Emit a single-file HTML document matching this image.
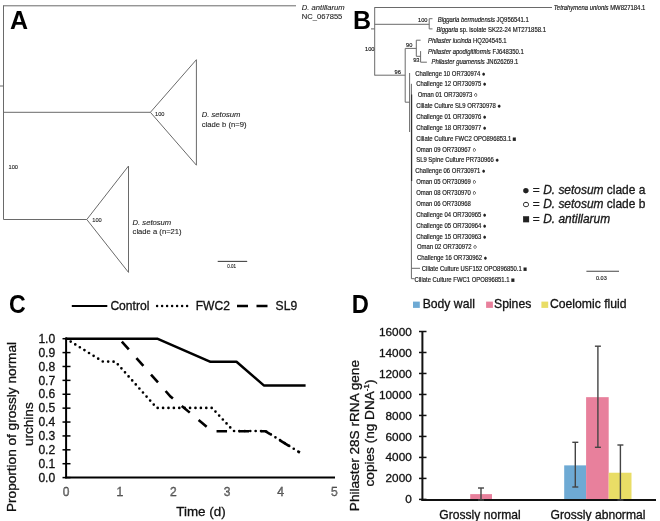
<!DOCTYPE html><html><head><meta charset="utf-8"><style>html,body{margin:0;padding:0;background:#fff;width:660px;height:521px;overflow:hidden}svg{display:block;will-change:transform}text{font-family:"Liberation Sans",sans-serif}.s{stroke:#111;stroke-width:0.15px}.m{stroke:#111;stroke-width:0.3px}.a{fill:#222;stroke:#222;stroke-width:0.1px}</style></head><body>
<svg width="660" height="521" viewBox="0 0 660 521">
<rect width="660" height="521" fill="#fff"/>
<text x="10" y="28.8" font-size="25" fill="#000" text-anchor="start" font-weight="bold" >A</text>
<line x1="3.5" y1="5.8" x2="296" y2="5.8" stroke="#6a6a6a" stroke-width="1" />
<line x1="3.5" y1="5.3" x2="3.5" y2="219.5" stroke="#6a6a6a" stroke-width="1" />
<line x1="0" y1="86" x2="3.5" y2="86" stroke="#6a6a6a" stroke-width="1" />
<line x1="3.5" y1="112.3" x2="150.4" y2="112.3" stroke="#6a6a6a" stroke-width="1" />
<polygon points="150.4,112.3 196.4,59.7 196.4,165.2" fill="none" stroke="#6a6a6a" stroke-width="1"/>
<line x1="3.5" y1="219.5" x2="86.8" y2="219.5" stroke="#6a6a6a" stroke-width="1" />
<polygon points="86.8,219.5 128.5,166 128.5,272.4" fill="none" stroke="#6a6a6a" stroke-width="1"/>
<text x="155" y="115.76" font-size="5.7" fill="#222" text-anchor="start" class="a">100</text>
<text x="92.3" y="222.46" font-size="5.7" fill="#222" text-anchor="start" class="a">100</text>
<text x="8.5" y="168.96" font-size="5.7" fill="#222" text-anchor="start" class="a">100</text>
<text x="201.7" y="117.23" font-size="7.65" fill="#222" text-anchor="start" font-style="italic" class="a">D. setosum</text>
<text x="201.7" y="126.63" font-size="7.65" fill="#222" text-anchor="start" class="a">clade b (n=9)</text>
<text x="132.6" y="224.73" font-size="7.65" fill="#222" text-anchor="start" font-style="italic" class="a">D. setosum</text>
<text x="132.6" y="233.53" font-size="7.65" fill="#222" text-anchor="start" class="a">clade a (n=21)</text>
<line x1="217.7" y1="261.4" x2="247.2" y2="261.4" stroke="#444" stroke-width="1.1" />
<text x="227.3" y="267.95" font-size="4.5" fill="#222" text-anchor="start" class="a">0.01</text>
<text x="301.8" y="10.33" font-size="7.65" fill="#222" text-anchor="start" font-style="italic" class="a">D. antillarum</text>
<text x="301.8" y="18.61" font-size="7.6" fill="#222" text-anchor="start" class="a">NC_067855</text>
<text x="353" y="28.8" font-size="25" fill="#000" text-anchor="start" font-weight="bold" >B</text>
<line x1="374.7" y1="7.5" x2="552" y2="7.5" stroke="#6a6a6a" stroke-width="1" />
<line x1="374.7" y1="7.2" x2="374.7" y2="75.5" stroke="#6a6a6a" stroke-width="1" />
<line x1="371" y1="28.9" x2="374.7" y2="28.9" stroke="#6a6a6a" stroke-width="1" />
<line x1="374.7" y1="24.3" x2="429.2" y2="24.3" stroke="#6a6a6a" stroke-width="1" />
<line x1="429.2" y1="18.7" x2="429.2" y2="28.9" stroke="#6a6a6a" stroke-width="1" />
<line x1="429.2" y1="18.7" x2="432.5" y2="18.7" stroke="#6a6a6a" stroke-width="1" />
<line x1="429.2" y1="28.9" x2="432.5" y2="28.9" stroke="#6a6a6a" stroke-width="1" />
<text x="418" y="22" font-size="5.7" fill="#222" text-anchor="start" class="s">100</text>
<text x="365" y="51.46" font-size="5.7" fill="#222" text-anchor="start" class="s">100</text>
<g transform="translate(0,8) scale(1,1.1)">
<text x="553.8" y="2.04" font-size="5.93" fill="#222" text-anchor="start" class="s"><tspan font-style='italic'>Tetrahymena unionis</tspan> MW827184.1</text>
</g>
<g transform="translate(0,20) scale(1,1.1)">
<text x="437.7" y="2.04" font-size="5.93" fill="#222" text-anchor="start" class="s"><tspan font-style='italic'>Biggaria bermudensis</tspan> JQ956541.1</text>
</g>
<g transform="translate(0,29.8) scale(1,1.1)">
<text x="436.4" y="2.04" font-size="5.93" fill="#222" text-anchor="start" class="s"><tspan font-style='italic'>Biggaria</tspan> sp. isolate SK22-24 MT271858.1</text>
</g>
<line x1="374.7" y1="75.2" x2="405.2" y2="75.2" stroke="#6a6a6a" stroke-width="1" />
<text x="394.6" y="74.0" font-size="5.7" fill="#222" text-anchor="start" class="s">96</text>
<line x1="405.2" y1="48.5" x2="405.2" y2="102.2" stroke="#6a6a6a" stroke-width="1" />
<line x1="405.2" y1="48.4" x2="416.3" y2="48.4" stroke="#6a6a6a" stroke-width="1" />
<text x="406.1" y="47.2" font-size="5.7" fill="#222" text-anchor="start" class="s">90</text>
<line x1="416.3" y1="40.2" x2="416.3" y2="56.3" stroke="#6a6a6a" stroke-width="1" />
<line x1="416.3" y1="40.2" x2="420.6" y2="40.2" stroke="#6a6a6a" stroke-width="1" />
<line x1="416.3" y1="56.3" x2="420.6" y2="56.3" stroke="#6a6a6a" stroke-width="1" />
<line x1="420.6" y1="51.1" x2="420.6" y2="62.2" stroke="#6a6a6a" stroke-width="1" />
<line x1="420.6" y1="62.2" x2="426.9" y2="62.2" stroke="#6a6a6a" stroke-width="1" />
<text x="413.2" y="62.3" font-size="5.7" fill="#222" text-anchor="start" class="s">93</text>
<g transform="translate(0,40.6) scale(1,1.1)">
<text x="428" y="2.04" font-size="5.93" fill="#222" text-anchor="start" class="s"><tspan font-style='italic'>Philaster lucinda</tspan> HQ204545.1</text>
</g>
<g transform="translate(0,51.8) scale(1,1.1)">
<text x="428" y="2.04" font-size="5.93" fill="#222" text-anchor="start" class="s"><tspan font-style='italic'>Philaster apodigitiformis</tspan> FJ648350.1</text>
</g>
<g transform="translate(0,62.0) scale(1,1.1)">
<text x="431.5" y="2.04" font-size="5.93" fill="#222" text-anchor="start" class="s"><tspan font-style='italic'>Philaster guamensis</tspan> JN626269.1</text>
</g>
<line x1="405.2" y1="102.2" x2="409.6" y2="102.2" stroke="#6a6a6a" stroke-width="1" />
<line x1="409.6" y1="73" x2="409.6" y2="132" stroke="#6a6a6a" stroke-width="1" />
<line x1="411.4" y1="83.8" x2="411.4" y2="278.7" stroke="#6a6a6a" stroke-width="1" />
<line x1="411.7" y1="94.5" x2="411.7" y2="181" stroke="#222" stroke-width="1" />
<line x1="411.4" y1="268.3" x2="420" y2="268.3" stroke="#6a6a6a" stroke-width="1" />
<line x1="411.4" y1="278.7" x2="414.5" y2="278.7" stroke="#6a6a6a" stroke-width="1" />
<g transform="translate(0,73.3) scale(1,1.1)">
<text x="415.3" y="2.04" font-size="5.93" fill="#222" text-anchor="start" class="s">Challenge 10 OR730974 ●</text>
</g>
<g transform="translate(0,84.16499999999999) scale(1,1.1)">
<text x="416.2" y="2.04" font-size="5.93" fill="#222" text-anchor="start" class="s">Challenge 12 OR730975 ●</text>
</g>
<g transform="translate(0,95.03) scale(1,1.1)">
<text x="417.7" y="2.04" font-size="5.93" fill="#222" text-anchor="start" class="s">Oman 01 OR730973 ○</text>
</g>
<g transform="translate(0,105.895) scale(1,1.1)">
<text x="416.2" y="2.04" font-size="5.93" fill="#222" text-anchor="start" class="s">Ciliate Culture SL9 OR730978 ●</text>
</g>
<g transform="translate(0,116.75999999999999) scale(1,1.1)">
<text x="416.2" y="2.04" font-size="5.93" fill="#222" text-anchor="start" class="s">Challenge 01 OR730976 ●</text>
</g>
<g transform="translate(0,127.625) scale(1,1.1)">
<text x="416.2" y="2.04" font-size="5.93" fill="#222" text-anchor="start" class="s">Challenge 18 OR730977 ●</text>
</g>
<g transform="translate(0,138.49) scale(1,1.1)">
<text x="416.2" y="2.04" font-size="5.93" fill="#222" text-anchor="start" class="s">Ciliate Culture FWC2 OPO896853.1 ■</text>
</g>
<g transform="translate(0,149.35500000000002) scale(1,1.1)">
<text x="416.2" y="2.04" font-size="5.93" fill="#222" text-anchor="start" class="s">Oman 09 OR730967 ○</text>
</g>
<g transform="translate(0,160.22) scale(1,1.1)">
<text x="416.2" y="2.04" font-size="5.93" fill="#222" text-anchor="start" class="s">SL9 Spine Culture PR730966 ●</text>
</g>
<g transform="translate(0,171.08499999999998) scale(1,1.1)">
<text x="415.3" y="2.04" font-size="5.93" fill="#222" text-anchor="start" class="s">Challenge 06 OR730971 ●</text>
</g>
<g transform="translate(0,181.95) scale(1,1.1)">
<text x="416.2" y="2.04" font-size="5.93" fill="#222" text-anchor="start" class="s">Oman 05 OR730969 ○</text>
</g>
<g transform="translate(0,192.815) scale(1,1.1)">
<text x="416.2" y="2.04" font-size="5.93" fill="#222" text-anchor="start" class="s">Oman 08 OR730970 ○</text>
</g>
<g transform="translate(0,203.68) scale(1,1.1)">
<text x="416.2" y="2.04" font-size="5.93" fill="#222" text-anchor="start" class="s">Oman 06 OR730968</text>
</g>
<g transform="translate(0,214.54500000000002) scale(1,1.1)">
<text x="416.2" y="2.04" font-size="5.93" fill="#222" text-anchor="start" class="s">Challenge 04 OR730965 ●</text>
</g>
<g transform="translate(0,225.41000000000003) scale(1,1.1)">
<text x="416.2" y="2.04" font-size="5.93" fill="#222" text-anchor="start" class="s">Challenge 05 OR730964 ●</text>
</g>
<g transform="translate(0,236.27499999999998) scale(1,1.1)">
<text x="416.2" y="2.04" font-size="5.93" fill="#222" text-anchor="start" class="s">Challenge 15 OR730963 ●</text>
</g>
<g transform="translate(0,247.14) scale(1,1.1)">
<text x="417" y="2.04" font-size="5.93" fill="#222" text-anchor="start" class="s">Oman 02 OR730972 ○</text>
</g>
<g transform="translate(0,258.005) scale(1,1.1)">
<text x="417" y="2.04" font-size="5.93" fill="#222" text-anchor="start" class="s">Challenge 16 OR730962 ●</text>
</g>
<g transform="translate(0,268.87) scale(1,1.1)">
<text x="421.8" y="2.04" font-size="5.93" fill="#222" text-anchor="start" class="s">Ciliate Culture USF152 OPO896850.1 ■</text>
</g>
<g transform="translate(0,279.735) scale(1,1.1)">
<text x="414.5" y="2.04" font-size="5.93" fill="#222" text-anchor="start" class="s">Ciliate Culture FWC1 OPO896851.1 ■</text>
</g>
<text x="522.3" y="193.71" font-size="11.95" fill="#222" text-anchor="start" class="m">● = <tspan font-style='italic'>D. setosum</tspan> clade a</text>
<text x="522.3" y="208.11" font-size="11.95" fill="#222" text-anchor="start" class="m">○ = <tspan font-style='italic'>D. setosum</tspan> clade b</text>
<text x="522.3" y="222.61" font-size="11.95" fill="#222" text-anchor="start" class="m">■ = <tspan font-style='italic'>D. antillarum</tspan></text>
<line x1="586.4" y1="271.3" x2="619" y2="271.3" stroke="#444" stroke-width="1.1" />
<text x="596" y="279.59" font-size="5.5" fill="#222" text-anchor="start" class="s">0.03</text>
<text transform="translate(9.0,313.2) scale(0.925,1)" font-size="25" font-weight="bold" fill="#000">C</text>
<line x1="71.8" y1="306" x2="107.3" y2="306" stroke="#000" stroke-width="2.2" />
<text x="110.4" y="310.16" font-size="12.1" fill="#111" text-anchor="start" class="m">Control</text>
<line x1="157.1" y1="306" x2="190.1" y2="306" stroke="#000" stroke-width="2.5" stroke-dasharray="0 5" stroke-linecap="round"/>
<text x="195.7" y="310.16" font-size="12.1" fill="#111" text-anchor="start" class="m">FWC2</text>
<line x1="237" y1="306" x2="268" y2="306" stroke="#000" stroke-width="2.5" stroke-dasharray="11 8.5"/>
<text x="275.6" y="310.16" font-size="12.1" fill="#111" text-anchor="start" class="m">SL9</text>
<line x1="62.5" y1="477.6" x2="70.5" y2="477.6" stroke="#000" stroke-width="1.5" />
<text x="55.2" y="481.76" font-size="12.1" fill="#111" text-anchor="end" class="m">0.0</text>
<line x1="62.5" y1="463.71000000000004" x2="70.5" y2="463.71000000000004" stroke="#000" stroke-width="1.5" />
<text x="55.2" y="467.87" font-size="12.1" fill="#111" text-anchor="end" class="m">0.1</text>
<line x1="62.5" y1="449.82" x2="70.5" y2="449.82" stroke="#000" stroke-width="1.5" />
<text x="55.2" y="453.98" font-size="12.1" fill="#111" text-anchor="end" class="m">0.2</text>
<line x1="62.5" y1="435.93" x2="70.5" y2="435.93" stroke="#000" stroke-width="1.5" />
<text x="55.2" y="440.09" font-size="12.1" fill="#111" text-anchor="end" class="m">0.3</text>
<line x1="62.5" y1="422.04" x2="70.5" y2="422.04" stroke="#000" stroke-width="1.5" />
<text x="55.2" y="426.2" font-size="12.1" fill="#111" text-anchor="end" class="m">0.4</text>
<line x1="62.5" y1="408.15" x2="70.5" y2="408.15" stroke="#000" stroke-width="1.5" />
<text x="55.2" y="412.31" font-size="12.1" fill="#111" text-anchor="end" class="m">0.5</text>
<line x1="62.5" y1="394.26" x2="70.5" y2="394.26" stroke="#000" stroke-width="1.5" />
<text x="55.2" y="398.42" font-size="12.1" fill="#111" text-anchor="end" class="m">0.6</text>
<line x1="62.5" y1="380.37" x2="70.5" y2="380.37" stroke="#000" stroke-width="1.5" />
<text x="55.2" y="384.53" font-size="12.1" fill="#111" text-anchor="end" class="m">0.7</text>
<line x1="62.5" y1="366.48" x2="70.5" y2="366.48" stroke="#000" stroke-width="1.5" />
<text x="55.2" y="370.64" font-size="12.1" fill="#111" text-anchor="end" class="m">0.8</text>
<line x1="62.5" y1="352.59" x2="70.5" y2="352.59" stroke="#000" stroke-width="1.5" />
<text x="55.2" y="356.75" font-size="12.1" fill="#111" text-anchor="end" class="m">0.9</text>
<line x1="62.5" y1="338.7" x2="70.5" y2="338.7" stroke="#000" stroke-width="1.5" />
<text x="55.2" y="342.86" font-size="12.1" fill="#111" text-anchor="end" class="m">1.0</text>
<line x1="66.1" y1="338.2" x2="66.1" y2="478.3" stroke="#000" stroke-width="2" />
<line x1="65.1" y1="477.6" x2="335" y2="477.6" stroke="#000" stroke-width="2" />
<text x="66.1" y="496.36" font-size="12.1" fill="#8a8a8a" text-anchor="middle" class="m">0</text>
<text x="119.75" y="496.36" font-size="12.1" fill="#8a8a8a" text-anchor="middle" class="m">1</text>
<text x="173.39999999999998" y="496.36" font-size="12.1" fill="#8a8a8a" text-anchor="middle" class="m">2</text>
<text x="227.04999999999998" y="496.36" font-size="12.1" fill="#8a8a8a" text-anchor="middle" class="m">3</text>
<text x="280.7" y="496.36" font-size="12.1" fill="#8a8a8a" text-anchor="middle" class="m">4</text>
<text x="334.35" y="496.36" font-size="12.1" fill="#8a8a8a" text-anchor="middle" class="m">5</text>
<text x="201" y="516.31" font-size="13.4" fill="#111" text-anchor="middle" class="m">Time (d)</text>
<text class="m" transform="translate(15.6,427) rotate(-90)" font-size="13.6" fill="#111" text-anchor="middle">Proportion of grossly normal</text>
<text class="m" transform="translate(33.3,424.2) rotate(-90)" font-size="13.6" fill="#111" text-anchor="middle">urchins</text>
<polyline points="66.1,338.7 157.2,338.7 210.5,361.8 236.5,361.8 263.8,385.4 305.6,385.4" fill="none" stroke="#000" stroke-width="2.5" stroke-linejoin="round"/>
<polyline points="66.1,338.7 102.7,361.5 115.5,361.7 156.7,407.9 212,407.9 233.6,431 265.3,431 299.9,452.6" fill="none" stroke="#000" stroke-width="2.7" stroke-dasharray="0 5.4" stroke-linecap="round"/>
<polyline points="119.5,339 170.5,396.5 212,431.2 265.3,431.2 299.9,452.6" fill="none" stroke="#000" stroke-width="2.6" stroke-dasharray="0 3.5 10.5 8"/>
<text transform="translate(351.8,313.0) scale(0.95,1)" font-size="25" font-weight="bold" fill="#000">D</text>
<rect x="413" y="301.6" width="6.8" height="6.3" fill="#6eaad4"/>
<text x="422.7" y="308.4" font-size="12.2" fill="#111" text-anchor="start" class="m">Body wall</text>
<rect x="486.1" y="301.6" width="6.8" height="6.3" fill="#e8809c"/>
<text x="494" y="308.4" font-size="12.2" fill="#111" text-anchor="start" class="m">Spines</text>
<rect x="541.4" y="301.6" width="6.8" height="6.3" fill="#e9dd66"/>
<text x="550" y="308.4" font-size="12.2" fill="#111" text-anchor="start" class="m">Coelomic fluid</text>
<line x1="419.0" y1="499.4" x2="426.5" y2="499.4" stroke="#111" stroke-width="1.5" />
<text x="411.8" y="503.46" font-size="11.8" fill="#111" text-anchor="end" class="m">0</text>
<line x1="419.0" y1="478.41249999999997" x2="426.5" y2="478.41249999999997" stroke="#111" stroke-width="1.5" />
<text x="411.8" y="482.47" font-size="11.8" fill="#111" text-anchor="end" class="m">2000</text>
<line x1="419.0" y1="457.42499999999995" x2="426.5" y2="457.42499999999995" stroke="#111" stroke-width="1.5" />
<text x="411.8" y="461.48" font-size="11.8" fill="#111" text-anchor="end" class="m">4000</text>
<line x1="419.0" y1="436.4375" x2="426.5" y2="436.4375" stroke="#111" stroke-width="1.5" />
<text x="411.8" y="440.5" font-size="11.8" fill="#111" text-anchor="end" class="m">6000</text>
<line x1="419.0" y1="415.45" x2="426.5" y2="415.45" stroke="#111" stroke-width="1.5" />
<text x="411.8" y="419.51" font-size="11.8" fill="#111" text-anchor="end" class="m">8000</text>
<line x1="419.0" y1="394.4625" x2="426.5" y2="394.4625" stroke="#111" stroke-width="1.5" />
<text x="411.8" y="398.52" font-size="11.8" fill="#111" text-anchor="end" class="m">10000</text>
<line x1="419.0" y1="373.475" x2="426.5" y2="373.475" stroke="#111" stroke-width="1.5" />
<text x="411.8" y="377.53" font-size="11.8" fill="#111" text-anchor="end" class="m">12000</text>
<line x1="419.0" y1="352.4875" x2="426.5" y2="352.4875" stroke="#111" stroke-width="1.5" />
<text x="411.8" y="356.55" font-size="11.8" fill="#111" text-anchor="end" class="m">14000</text>
<line x1="419.0" y1="331.5" x2="426.5" y2="331.5" stroke="#111" stroke-width="1.5" />
<text x="411.8" y="335.56" font-size="11.8" fill="#111" text-anchor="end" class="m">16000</text>
<line x1="422.4" y1="331.5" x2="422.4" y2="501" stroke="#111" stroke-width="2" />
<rect x="470.2" y="494.12" width="21.8" height="6.08" fill="#e8809c"/>
<rect x="564.2" y="465.37" width="21.9" height="34.83" fill="#6eaad4"/>
<rect x="586.1" y="397.16" width="22.6" height="103.04" fill="#e8809c"/>
<rect x="608.7" y="472.72" width="22.8" height="27.48" fill="#e9dd66"/>
<line x1="421.5" y1="500" x2="656" y2="500" stroke="#111" stroke-width="2" />
<line x1="481" y1="488.0" x2="481" y2="500" stroke="#444" stroke-width="1.4" />
<line x1="478" y1="488.0" x2="484" y2="488.0" stroke="#444" stroke-width="1.4" />
<line x1="478" y1="500" x2="484" y2="500" stroke="#444" stroke-width="1.4" />
<line x1="575.3" y1="442.3" x2="575.3" y2="487.0" stroke="#444" stroke-width="1.4" />
<line x1="572.3" y1="442.3" x2="578.3" y2="442.3" stroke="#444" stroke-width="1.4" />
<line x1="572.3" y1="487.0" x2="578.3" y2="487.0" stroke="#444" stroke-width="1.4" />
<line x1="597.9" y1="346.2" x2="597.9" y2="447.3" stroke="#444" stroke-width="1.4" />
<line x1="594.9" y1="346.2" x2="600.9" y2="346.2" stroke="#444" stroke-width="1.4" />
<line x1="594.9" y1="447.3" x2="600.9" y2="447.3" stroke="#444" stroke-width="1.4" />
<line x1="620.4" y1="445.0" x2="620.4" y2="500" stroke="#444" stroke-width="1.4" />
<line x1="617.4" y1="445.0" x2="623.4" y2="445.0" stroke="#444" stroke-width="1.4" />
<line x1="617.4" y1="500" x2="623.4" y2="500" stroke="#444" stroke-width="1.4" />
<text x="480" y="518.66" font-size="12.1" fill="#111" text-anchor="middle" class="m">Grossly normal</text>
<text x="598" y="518.66" font-size="12.1" fill="#111" text-anchor="middle" class="m">Grossly abnormal</text>
<text class="m" transform="translate(359,435.6) rotate(-90)" font-size="13.6" fill="#111" text-anchor="middle">Philaster 28S rRNA gene</text>
<text class="m" transform="translate(373.5,433) rotate(-90)" font-size="13.6" fill="#111" text-anchor="middle">copies (ng DNA<tspan font-size="8" dy="-5">-1</tspan><tspan dy="5">)</tspan></text>
</svg></body></html>
